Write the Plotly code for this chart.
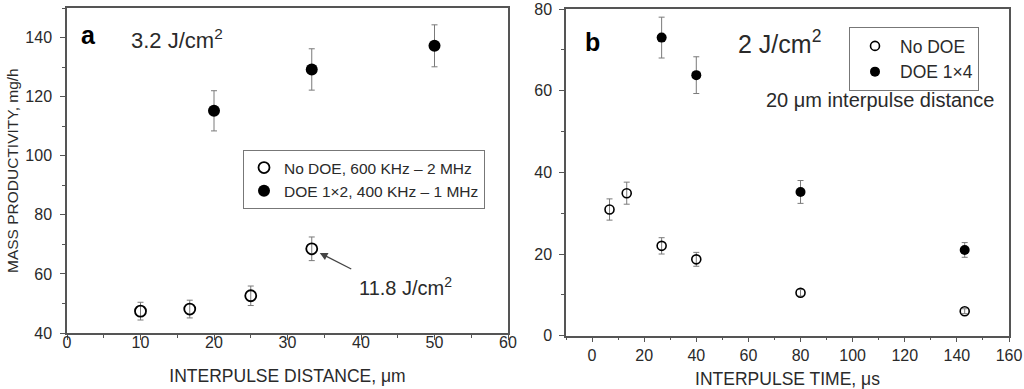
import plotly.graph_objects as go

# ---- Panel a data ----
a_nodoe_x = [10, 16.7, 25, 33.3]
a_nodoe_y = [47.4, 48.1, 52.6, 68.5]
a_nodoe_err = [3.0, 3.0, 3.3, 4.0]
a_doe_x = [20, 33.3, 50]
a_doe_y = [115.2, 129.2, 137.2]
a_doe_err = [6.8, 7.0, 7.1]

# ---- Panel b data ----
b_nodoe_x = [6.7, 13.3, 26.7, 40, 80, 143]
b_nodoe_y = [30.9, 34.9, 22.0, 18.7, 10.5, 6.0]
b_nodoe_err = [2.6, 2.7, 2.0, 1.7, 0.8, 0.6]
b_doe_x = [26.7, 40, 80, 143]
b_doe_y = [73.0, 63.8, 35.2, 21.0]
b_doe_err = [5.0, 4.5, 2.8, 1.8]

FONT = "Liberation Sans, Arial, sans-serif"
TXT = "#2a2a2a"
AX = "#555555"
ERR = "#7a7a7a"

fig = go.Figure()

def err(vals):
    return dict(type="data", array=vals, visible=True, color=ERR, thickness=1, width=3)

fig.add_trace(go.Scatter(x=a_nodoe_x, y=a_nodoe_y, mode="markers", name="No DOE, 600 KHz \u2013 2 MHz",
                         error_y=err(a_nodoe_err),
                         marker=dict(symbol="circle-open", size=11, color="black", line=dict(width=1.8)),
                         xaxis="x", yaxis="y", legend="legend"))
fig.add_trace(go.Scatter(x=a_doe_x, y=a_doe_y, mode="markers", name="DOE 1\u00d72, 400 KHz \u2013 1 MHz",
                         error_y=err(a_doe_err),
                         marker=dict(symbol="circle", size=12, color="black"),
                         xaxis="x", yaxis="y", legend="legend"))
fig.add_trace(go.Scatter(x=b_nodoe_x, y=b_nodoe_y, mode="markers", name="No DOE",
                         error_y=err(b_nodoe_err),
                         marker=dict(symbol="circle-open", size=9, color="black", line=dict(width=1.6)),
                         xaxis="x2", yaxis="y2", legend="legend2"))
fig.add_trace(go.Scatter(x=b_doe_x, y=b_doe_y, mode="markers", name="DOE 1\u00d74",
                         error_y=err(b_doe_err),
                         marker=dict(symbol="circle", size=10, color="black"),
                         xaxis="x2", yaxis="y2", legend="legend2"))

tickfont = dict(family=FONT, size=16, color=TXT)

def main_axis(rng, dtick, mdtick, domain, anchor, title, tsize, standoff, lstand):
    return dict(range=rng, domain=domain, anchor=anchor, dtick=dtick, tick0=0, automargin=False,
                showgrid=False, zeroline=False, showline=True, linecolor=AX, linewidth=1.5,
                mirror=True, ticks="outside", ticklen=5, tickwidth=1.2, tickcolor=AX,
                minor=dict(dtick=mdtick, ticks="outside", ticklen=3, tickwidth=1, tickcolor=AX, showgrid=False),
                tickfont=tickfont, ticklabelstandoff=lstand,
                title=dict(text=title, font=dict(family=FONT, size=tsize, color=TXT), standoff=standoff))

def mirror_axis(rng, dtick, mdtick, domain, anchor, overlaying, side):
    return dict(range=rng, domain=domain, anchor=anchor, overlaying=overlaying, side=side,
                automargin=False,
                dtick=dtick, tick0=0, showgrid=False, zeroline=False, showline=False,
                ticks="inside", ticklen=5, tickwidth=1.2, tickcolor=AX, showticklabels=False,
                minor=dict(dtick=mdtick, ticks="inside", ticklen=3, tickwidth=1, tickcolor=AX, showgrid=False))

W, H = 1024, 389
xa_dom = [67 / W, 508 / W]
ya_dom = [1 - 333 / H, 1 - 8 / H]
xb_dom = [566 / W, 1009 / W]
yb_dom = [1 - 335.7 / H, 1 - 9 / H]

fig.update_layout(
    width=W, height=H,
    margin=dict(l=0, r=0, t=0, b=0, autoexpand=False),
    paper_bgcolor="white", plot_bgcolor="white",
    font=dict(family=FONT, color=TXT),
    showlegend=True,
    xaxis=main_axis([0, 60], 10, 5, xa_dom, "y", "INTERPULSE DISTANCE, \u03bcm", 17.5, 20, -11),
    yaxis=main_axis([40, 150], 20, 10, ya_dom, "x", "", 15.5, 9, 5),
    xaxis2=main_axis([-10, 160], 20, 10, xb_dom, "y2", "INTERPULSE TIME, \u03bcs", 17.5, 10, -1),
    yaxis2=main_axis([0, 80], 20, 10, yb_dom, "x2", "", 15.5, 8, 4),
    xaxis3=mirror_axis([0, 60], 10, 5, xa_dom, "y", "x", "top"),
    yaxis3=mirror_axis([40, 150], 20, 10, ya_dom, "x", "y", "right"),
    xaxis4=mirror_axis([-10, 160], 20, 10, xb_dom, "y2", "x2", "top"),
    yaxis4=mirror_axis([0, 80], 20, 10, yb_dom, "x2", "y2", "right"),
    legend=dict(x=243 / W, y=1 - 150 / H, xanchor="left", yanchor="top", bgcolor="white",
                bordercolor="#777", borderwidth=1, font=dict(family=FONT, size=15.5, color=TXT),
                tracegroupgap=0, itemclick=False),
    legend2=dict(x=849 / W, y=1 - 27 / H, xanchor="left", yanchor="top", bgcolor="white",
                 bordercolor="#777", borderwidth=1, font=dict(family=FONT, size=17.5, color=TXT),
                 tracegroupgap=0, itemclick=False, itemwidth=40),
)

def label(text, xref, yref, x, y, size, color=TXT, angle=0):
    return dict(text=text, xref=xref, yref=yref, x=x, y=y, xanchor="center", yanchor="middle",
                textangle=angle, showarrow=False, font=dict(family=FONT, size=size, color=color))

ann = [
    label("MASS PRODUCTIVITY, mg/h", "paper", "y domain", 12.5 / W, 0.5, 15.5, angle=-90),
    label("<b>a</b>", "x domain", "y domain", 0.048, 0.917, 25, "black"),
    label("3.2 J/cm<sup>2</sup>", "x domain", "y domain", 0.25, 0.905, 22),
    label("11.8 J/cm<sup>2</sup>", "x", "y", 46, 55.6, 20),
    dict(text="", xref="x", yref="y", x=a_nodoe_x[3], y=a_nodoe_y[3], ax=41, ay=21,
         showarrow=True, arrowhead=2, arrowsize=1.2, arrowwidth=1.3, arrowcolor="#444", standoff=9),
    label("<b>b</b>", "x2 domain", "y2 domain", 0.059, 0.898, 25, "black"),
    label("2 J/cm<sup>2</sup>", "x2 domain", "y2 domain", 0.483, 0.9, 25),
    label("20 \u03bcm interpulse distance", "x2 domain", "y2 domain", 0.709, 0.72, 20),
]
fig.update_layout(annotations=ann)

fig.write_html("out.html", config={"displayModeBar": False},
               post_script="document.body.style.margin='0px';document.body.style.padding='0px';")
